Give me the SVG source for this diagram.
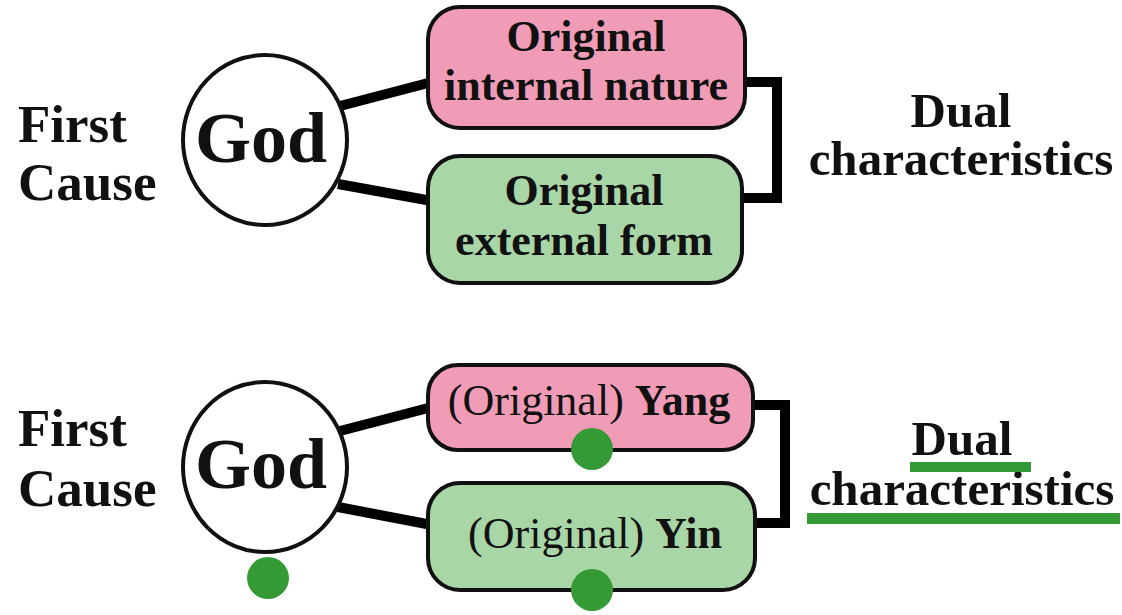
<svg xmlns="http://www.w3.org/2000/svg" width="1122" height="615" viewBox="0 0 1122 615">
  <style>
    .t { font-family: "Liberation Serif", "Times New Roman", serif; font-weight: bold; fill: #111; }
    .n { font-family: "Liberation Serif", "Times New Roman", serif; font-weight: normal; fill: #111; }
    .god { fill: #fff; stroke: #111; stroke-width: 4; }
    .pink { fill: #f09cb6; stroke: #111; stroke-width: 4; }
    .green { fill: #a9d6a7; stroke: #111; stroke-width: 4; }
    .link { fill: none; stroke: #000; stroke-width: 10; stroke-linejoin: miter; }
    .dot { fill: #349a36; }
    .ul { fill: #349a36; }
  </style>
  <rect width="1122" height="615" fill="#ffffff"/>

  <!-- connectors -->
  <g id="connectors">
    <line class="link" x1="340" y1="106" x2="432" y2="82"/>
    <line class="link" x1="338" y1="184" x2="432" y2="201"/>
    <polyline class="link" points="742,82 777,82 777,198 740,198"/>
    <line class="link" x1="340" y1="431" x2="432" y2="407"/>
    <line class="link" x1="338" y1="507" x2="432" y2="525"/>
    <polyline class="link" points="750,405 785,405 785,523 752,523"/>
  </g>

  <!-- upper diagram -->
  <g id="first-cause-1">
    <text class="t" x="18" y="142" font-size="53">First</text>
    <text class="t" x="18" y="200" font-size="53">Cause</text>
  </g>
  <g id="god-1">
    <ellipse class="god" cx="265" cy="140" rx="82" ry="85"/>
    <text class="t" x="261" y="162" font-size="72" text-anchor="middle">God</text>
  </g>
  <g id="internal-nature">
    <rect class="pink" x="428" y="7" width="317" height="121" rx="32"/>
    <text class="t" x="586" y="51" font-size="44" text-anchor="middle">Original</text>
    <text class="t" x="586" y="100" font-size="44" text-anchor="middle">internal nature</text>
  </g>
  <g id="external-form">
    <rect class="green" x="428" y="156" width="314" height="127" rx="32"/>
    <text class="t" x="584" y="205" font-size="44" text-anchor="middle">Original</text>
    <text class="t" x="584" y="255" font-size="44" text-anchor="middle">external form</text>
  </g>
  <g id="dual-1">
    <text class="t" x="961" y="127" font-size="49" text-anchor="middle">Dual</text>
    <text class="t" x="961" y="175" font-size="49" text-anchor="middle">characteristics</text>
  </g>

  <!-- lower diagram -->
  <g id="first-cause-2">
    <text class="t" x="18" y="446" font-size="53">First</text>
    <text class="t" x="18" y="506" font-size="53">Cause</text>
  </g>
  <g id="god-2">
    <ellipse class="god" cx="265" cy="467" rx="82" ry="85"/>
    <text class="t" x="261" y="488" font-size="72" text-anchor="middle">God</text>
    <circle class="dot" cx="268" cy="578" r="21"/>
  </g>
  <g id="yang">
    <rect class="pink" x="428" y="365" width="325" height="85" rx="30"/>
    <text x="589" y="415" font-size="44" text-anchor="middle"><tspan class="n">(Original) </tspan><tspan class="t">Yang</tspan></text>
    <circle class="dot" cx="592" cy="449" r="21"/>
  </g>
  <g id="yin">
    <rect class="green" x="428" y="483" width="327" height="107" rx="32"/>
    <text x="595" y="548" font-size="44" text-anchor="middle"><tspan class="n">(Original) </tspan><tspan class="t">Yin</tspan></text>
    <circle class="dot" cx="592" cy="590" r="21"/>
  </g>
  <g id="dual-2">
    <text class="t" x="962" y="455" font-size="49" text-anchor="middle">Dual</text>
    <text class="t" x="962" y="505" font-size="49" text-anchor="middle">characteristics</text>
    <rect class="ul" x="910" y="462" width="121" height="10"/>
    <rect class="ul" x="807" y="513" width="313" height="11"/>
  </g>
</svg>
